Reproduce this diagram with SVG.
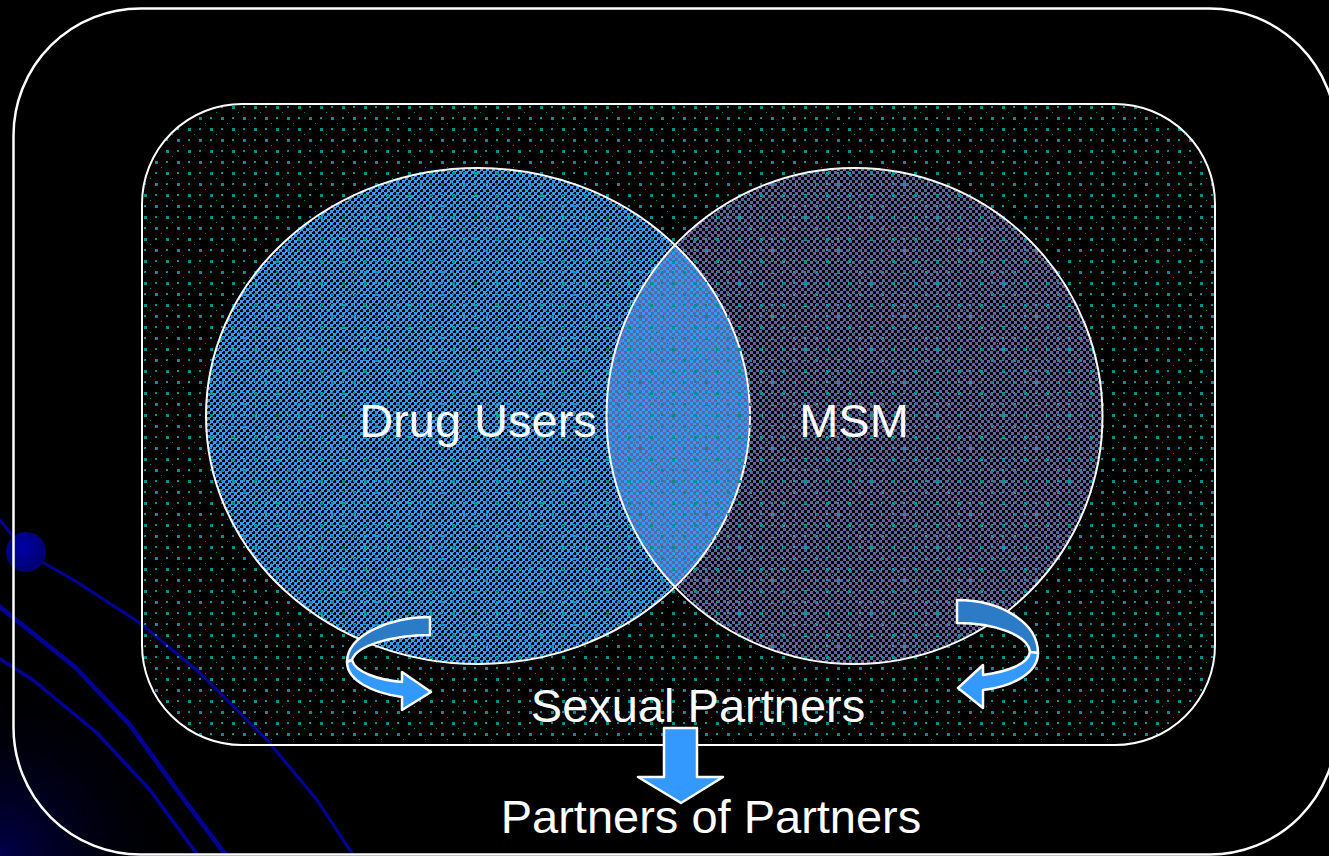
<svg xmlns="http://www.w3.org/2000/svg" width="1329" height="856" viewBox="0 0 1329 856">
<style>
.lbl{font-family:"Liberation Sans",Arial,sans-serif;font-size:47px;fill:#ffffff;text-anchor:middle}
.deco{fill:none;stroke:#000099;stroke-linecap:round;stroke-linejoin:round}
.frame{fill:none;stroke:#ffffff}
.arrDark{fill:#2c7bc6;stroke:#ffffff;stroke-width:2.5;stroke-linejoin:round}
.arrLight{fill:#3399ff;stroke:#ffffff;stroke-width:2.5;stroke-linejoin:round}
</style>
<defs>
<pattern id="dots" width="22" height="22" patternUnits="userSpaceOnUse" x="142" y="104">
<rect x="2" y="2" width="3" height="3" fill="#008f8f"/>
<rect x="13" y="2" width="2" height="2" fill="#008f8f"/>
<rect x="2" y="13" width="2" height="2" fill="#008f8f"/>
<rect x="13" y="13" width="3" height="3" fill="#008f8f"/>
<rect x="8" y="8" width="1" height="1" fill="#008080"/>
<rect x="19" y="19" width="1" height="1" fill="#008080"/>
</pattern>
<pattern id="blueChk" width="6" height="6" patternUnits="userSpaceOnUse">
<rect width="6" height="6" fill="#000000"/>
<rect x="0" y="0" width="3" height="3" fill="#3399ff"/>
<rect x="3" y="3" width="3" height="3" fill="#3399ff"/>
<rect x="3" y="0" width="1" height="1" fill="#3399ff"/>
<rect x="0" y="3" width="1" height="1" fill="#3399ff"/>
</pattern>
<pattern id="purpChk" width="6" height="6" patternUnits="userSpaceOnUse">
<rect x="3" y="0" width="3" height="3" fill="#6363a0"/>
<rect x="0" y="3" width="3" height="3" fill="#6363a0"/>
</pattern>
<radialGradient id="glow" cx="0" cy="856" r="190" gradientUnits="userSpaceOnUse">
<stop offset="0" stop-color="#00004a"/>
<stop offset="1" stop-color="#000000" stop-opacity="0"/>
</radialGradient>
<radialGradient id="ball" cx="0.4" cy="0.4" r="0.6">
<stop offset="0" stop-color="#0000a8"/>
<stop offset="1" stop-color="#000070"/>
</radialGradient>
</defs>

<rect width="1329" height="856" fill="#000000"/>
<g id="background">
<rect x="0" y="600" width="260" height="256" fill="url(#glow)"/>
<path class="deco" stroke-width="3" d="M0,520 L25,552 L77,582 L140,623 L200,673 L267,740 L317,800 L355,858"/>
<path class="deco" stroke-width="4.5" d="M0,607 L75,667 L130,725 L177,790 L228,858"/>
<path class="deco" stroke-width="3.5" d="M0,659 L33,680 L97,733 L150,790 L200,858"/>
<circle cx="26" cy="552" r="20" fill="url(#ball)"/>
<rect class="frame" stroke-width="2.5" x="13.5" y="8.5" width="1323" height="846" rx="127" ry="127"/>
</g>

<g id="population">
<rect x="142" y="104" width="1073" height="641" rx="100" ry="100" fill="url(#dots)"/>
</g>

<g id="drug-users">
<ellipse cx="478" cy="416" rx="272" ry="248" fill="url(#blueChk)"/>
</g>
<g id="msm">
<circle cx="854.5" cy="416" r="248" fill="url(#purpChk)"/>
</g>
<g id="overlay">
<ellipse cx="478" cy="416" rx="272" ry="248" fill="url(#dots)" stroke="#ffffff" stroke-width="2"/>
<circle cx="854.5" cy="416" r="248" fill="url(#dots)" stroke="#ffffff" stroke-width="2"/>
<rect class="frame" stroke-width="2" x="142" y="104" width="1073" height="641" rx="100" ry="100"/>
</g>

<g id="connectors">
<path class="arrDark" d="M347,662 C347,635 390,617 430,617 L430,635 C395,635 356,645 352,660 Z"/>
<path class="arrLight" d="M347,662 C347,680 372,693 402,697 L402,710 L431,692 L402,672 L402,682 C378,680 355,672 352,660 Z"/>
<path class="arrDark" d="M1038,653 C1038,622 1000,600 957,600 L957,623 C995,623 1028,635 1030,652 Z"/>
<path class="arrLight" d="M1038,653 C1038,672 1015,686 983,690 L983,708 L958,688 L983,665 L983,675 C1005,672 1028,665 1030,652 Z"/>
<path class="arrLight" d="M664,728 L697,728 L697,777 L723,777 L681,803 L638,777 L664,777 Z"/>
</g>

<g id="labels">
<text class="lbl" x="478" y="437">Drug Users</text>
<text class="lbl" x="854" y="437">MSM</text>
<text class="lbl" x="698" y="722">Sexual Partners</text>
<text class="lbl" x="711" y="833">Partners of Partners</text>
</g>
</svg>
